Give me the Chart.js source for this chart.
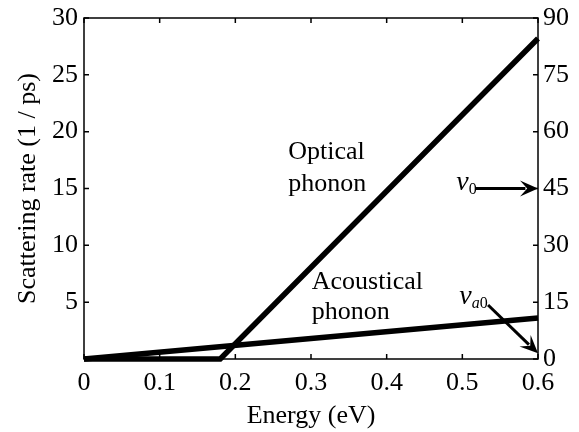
<!DOCTYPE html>
<html>
<head>
<meta charset="utf-8">
<script src="https://cdn.jsdelivr.net/npm/chart.js@4/dist/chart.umd.min.js"></script>
<style>
html, body { margin: 0; padding: 0; background: #fff; }
#wrap { width: 579px; height: 432px; }
</style>
</head>
<body>
<div id="wrap"><canvas id="chart"></canvas></div>
<script>
// data
var opticalEnergy = [0, 0.18, 0.6];
var opticalRate = [0, 0, 28.2];
var acousticEnergy = [0, 0.6];
var acousticRate = [0, 3.6];

var xTicks = [0, 0.1, 0.2, 0.3, 0.4, 0.5, 0.6];
var leftTicks = [5, 10, 15, 20, 25, 30];
var rightTicks = [0, 15, 30, 45, 60, 75, 90];

// text labels, anchored at [energy, rate]
var opticalText = ['Optical', 'phonon'];
var opticalTextPos = [[0.27, 18.2], [0.27, 15.4]];
var acousticText = ['Acoustical', 'phonon'];
var acousticTextPos = [[0.301, 6.75], [0.301, 4.1]];

// arrows: [x0, y0, x1, y1] in data units
var v0Arrow = [0.518, 15, 0.6, 15];
var va0Arrow = [0.534, 4.75, 0.6, 0.5];
var v0Pos = [0.492, 15.3];
var va0Pos = [0.496, 5.3];

var FONT = '"Liberation Serif", "Times New Roman", serif';
var FS = 26;

function toXY(xs, ys) {
	var pts = [];
	for (var i = 0; i < xs.length; i++) pts.push({x: xs[i], y: ys[i]});
	return pts;
}

function noPad(s) {
	s.paddingTop = 0;
	s.paddingBottom = 0;
}

function drawArrow(ctx, x0, y0, x1, y1) {
	var ang = Math.atan2(y1 - y0, x1 - x0);
	var c = Math.cos(ang), s = Math.sin(ang);
	var len = 18, half = 8;
	ctx.beginPath();
	ctx.moveTo(x0, y0);
	ctx.lineTo(x1 - c * len * 0.7, y1 - s * len * 0.7);
	ctx.stroke();
	ctx.beginPath();
	ctx.moveTo(x1, y1);
	ctx.lineTo(x1 - c * len - s * half, y1 - s * len + c * half);
	ctx.lineTo(x1 - c * len * 0.6, y1 - s * len * 0.6);
	ctx.lineTo(x1 - c * len + s * half, y1 - s * len - c * half);
	ctx.closePath();
	ctx.fill();
}

var framePlugin = {
	id: 'frame',
	afterDraw: function(chart) {
		var ctx = chart.ctx;
		var a = chart.chartArea;
		var sx = chart.scales.x, sy = chart.scales.y, sy1 = chart.scales.y1;
		ctx.save();
		ctx.strokeStyle = '#000';
		ctx.fillStyle = '#000';
		ctx.lineWidth = 1.5;
		ctx.strokeRect(a.left, a.top, a.right - a.left, a.bottom - a.top);

		// inward ticks
		ctx.beginPath();
		xTicks.forEach(function(v) {
			var px = sx.getPixelForValue(v);
			ctx.moveTo(px, a.bottom); ctx.lineTo(px, a.bottom - 5);
			ctx.moveTo(px, a.top); ctx.lineTo(px, a.top + 5);
		});
		leftTicks.forEach(function(v) {
			var py = sy.getPixelForValue(v);
			ctx.moveTo(a.left, py); ctx.lineTo(a.left + 5, py);
		});
		rightTicks.forEach(function(v) {
			var py = sy1.getPixelForValue(v);
			ctx.moveTo(a.right, py); ctx.lineTo(a.right - 5, py);
		});
		ctx.stroke();

		// text labels
		ctx.font = FS + 'px ' + FONT;
		ctx.textBaseline = 'middle';
		ctx.textAlign = 'left';
		opticalText.forEach(function(t, i) {
			ctx.fillText(t, sx.getPixelForValue(opticalTextPos[i][0]), sy.getPixelForValue(opticalTextPos[i][1]));
		});
		acousticText.forEach(function(t, i) {
			ctx.fillText(t, sx.getPixelForValue(acousticTextPos[i][0]), sy.getPixelForValue(acousticTextPos[i][1]));
		});

		// v0
		var px = sx.getPixelForValue(v0Pos[0]), py = sy.getPixelForValue(v0Pos[1]);
		ctx.font = 'italic 28px ' + FONT;
		ctx.fillText('v', px, py - 2);
		var w = ctx.measureText('v').width;
		ctx.font = '16px ' + FONT;
		ctx.fillText('0', px + w, py + 5);

		// va0
		px = sx.getPixelForValue(va0Pos[0]); py = sy.getPixelForValue(va0Pos[1]);
		ctx.font = 'italic 28px ' + FONT;
		ctx.fillText('v', px, py - 2);
		w = ctx.measureText('v').width;
		ctx.font = 'italic 16px ' + FONT;
		ctx.fillText('a', px + w, py + 5);
		var w2 = ctx.measureText('a').width;
		ctx.font = '16px ' + FONT;
		ctx.fillText('0', px + w + w2, py + 5);

		// arrows
		ctx.lineWidth = 3;
		drawArrow(ctx, sx.getPixelForValue(v0Arrow[0]), sy.getPixelForValue(v0Arrow[1]),
			sx.getPixelForValue(v0Arrow[2]), sy.getPixelForValue(v0Arrow[3]));
		drawArrow(ctx, sx.getPixelForValue(va0Arrow[0]), sy.getPixelForValue(va0Arrow[1]),
			sx.getPixelForValue(va0Arrow[2]), sy.getPixelForValue(va0Arrow[3]));
		ctx.restore();
	}
};

new Chart(document.getElementById('chart'), {
	type: 'scatter',
	data: {
		datasets: [
			{
				label: 'Optical phonon',
				data: toXY(opticalEnergy, opticalRate),
				showLine: true,
				borderColor: '#000',
				borderWidth: 5.5,
				pointRadius: 0,
				borderCapStyle: 'butt',
				clip: false,
				yAxisID: 'y'
			},
			{
				label: 'Acoustical phonon',
				data: toXY(acousticEnergy, acousticRate),
				showLine: true,
				borderColor: '#000',
				borderWidth: 5.5,
				pointRadius: 0,
				borderCapStyle: 'butt',
				clip: false,
				yAxisID: 'y'
			}
		]
	},
	options: {
		responsive: true,
		maintainAspectRatio: false,
		animation: false,
		layout: { padding: { top: 18, left: 0, right: 0, bottom: 0 } },
		plugins: { legend: { display: false }, tooltip: { enabled: false } },
		scales: {
			x: {
				type: 'linear',
				min: 0, max: 0.6,
				afterBuildTicks: function(s) { s.ticks = xTicks.map(function(v) { return {value: v}; }); },
				afterFit: function(s) { s.height = 73; s.paddingLeft = 0; s.paddingRight = 0; },
				grid: { display: false, drawTicks: false },
				border: { display: false },
				ticks: { color: '#000', padding: 9, maxRotation: 0, font: { family: FONT, size: FS },
					callback: function(v) { return String(v); } },
				title: { display: true, text: 'Energy (eV)', color: '#000', font: { family: FONT, size: FS }, padding: { top: 0, bottom: 0 } }
			},
			y: {
				type: 'linear', position: 'left',
				min: 0, max: 30,
				afterBuildTicks: function(s) { s.ticks = leftTicks.map(function(v) { return {value: v}; }); },
				afterFit: function(s) { s.width = 84; noPad(s); },
				grid: { display: false, drawTicks: false },
				border: { display: false },
				ticks: { color: '#000', padding: 6, font: { family: FONT, size: FS } },
				title: { display: true, text: 'Scattering rate (1 / ps)', color: '#000', font: { family: FONT, size: FS }, padding: { top: 13, bottom: 0 } }
			},
			y1: {
				type: 'linear', position: 'right',
				min: 0, max: 90,
				afterBuildTicks: function(s) { s.ticks = rightTicks.map(function(v) { return {value: v}; }); },
				afterFit: function(s) { s.width = 41; noPad(s); },
				grid: { display: false, drawTicks: false },
				border: { display: false },
				ticks: { color: '#000', padding: 5, font: { family: FONT, size: FS } }
			}
		}
	},
	plugins: [framePlugin]
});
</script>
</body>
</html>
